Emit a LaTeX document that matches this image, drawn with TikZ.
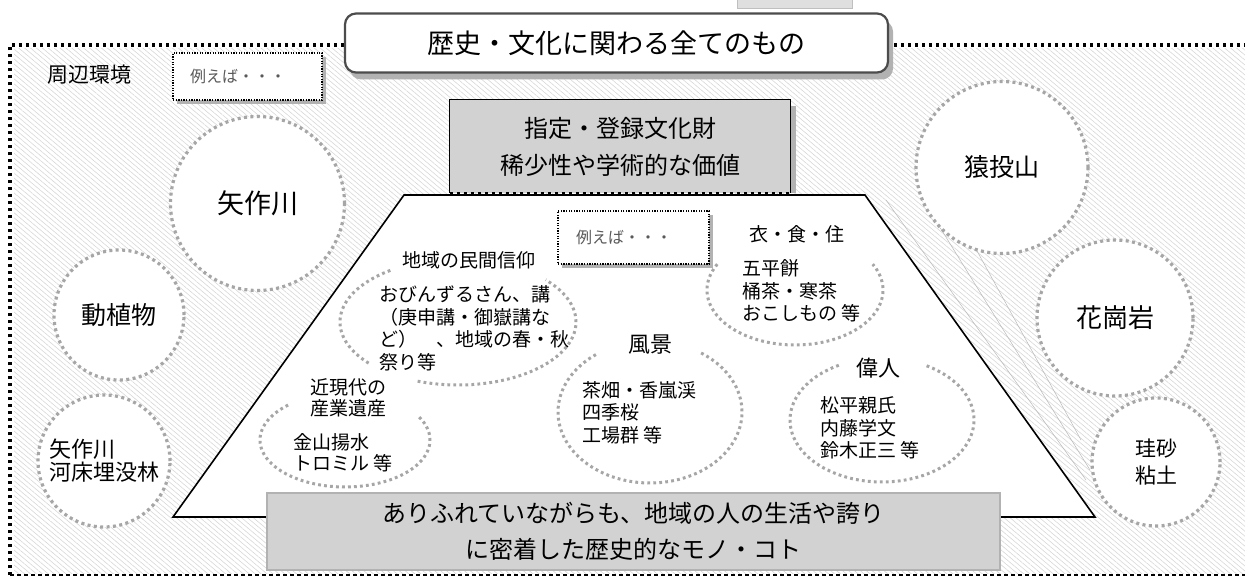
\documentclass[tikz,border=0pt]{standalone}
\usepackage{fontspec}
\setmainfont{Noto Sans CJK JP}
\usetikzlibrary{patterns.meta,calc,shadows}
\begin{document}
\begin{tikzpicture}[x=1pt,y=-1pt,
  outc/.style={circle, draw=gray!70, fill=white, line width=3.2pt,
    dash pattern=on 3pt off 3.4pt, inner sep=0pt, align=center},
  inarc/.style={draw=gray!70, line width=3pt, dash pattern=on 2.8pt off 3.2pt},
  bigdots/.style={line width=3.2pt, dash pattern=on 3pt off 4pt, draw=black},
  exbox/.style={draw=black, line width=1.2pt, dash pattern=on 1.3pt off 1.3pt, fill=white,
    text width=115pt, align=left, inner xsep=17pt, minimum height=47pt,
    font=\fontsize{16}{18}\selectfont, text=gray!70!black},
  lbl/.style={font=\fontsize{19}{22}\selectfont, inner sep=1pt},
  body/.style={font=\fontsize{19}{22.5}\selectfont, align=left, anchor=west, inner sep=0pt},
  graybox/.style={fill=gray!35, inner sep=0pt, align=center}
]
\useasboundingbox (0,0) rectangle (1245,578);
% background texture
\fill[white] (0,0) rectangle (1245,578);
\fill[pattern={Lines[angle=-40,distance=3.8pt,line width=.55pt]}, pattern color=gray!32]
  (14,49) rectangle (1245,573);
% outer border
\draw[bigdots] (10,575) -- (10,45) -- (1245,45);
\draw[line width=1.2pt, dash pattern=on 4pt off 3pt] (10,575) -- (1245,575);
% small grey shape at top
\draw[gray!50, fill=gray!25] (737,-2) rectangle (852,8);
% thin lines beside the trapezoid
\draw[gray!55, line width=.5pt] (886,200) -- (1086,480);
\draw[gray!55, line width=.5pt] (923,200) -- (1090,470);
\draw[gray!55, line width=.5pt] (949,200) -- (1081,440);
% outer circles
\node[outc, minimum size=174pt, font=\fontsize{27}{30}\selectfont] (yahagi) at (257.5,203.5) {矢作川};
\node[outc, minimum size=130pt, font=\fontsize{25}{28}\selectfont] (doshoku) at (119,315) {動植物};
\node[outc, minimum size=132pt, font=\fontsize{22}{23}\selectfont, align=left] (maibotsu) at (104,461) {矢作川\\河床埋没林};
\node[outc, minimum size=172pt, font=\fontsize{25}{28}\selectfont] (sanage) at (1002,167.5) {猿投山};
\node[outc, minimum size=156pt, font=\fontsize{26}{29}\selectfont] (kakougan) at (1115,318) {花崗岩};
\node[outc, minimum size=128pt, font=\fontsize{21}{27}\selectfont] (keisha) at (1156,462) {珪砂\\粘土};
% trapezoid
\coordinate (tbl) at (173,517);
\coordinate (ttl) at (404,195);
\coordinate (ttr) at (865,195);
\coordinate (tkn) at (877,212);
\coordinate (tbr) at (1095,517);
\draw[line width=1.6pt, fill=white] (tbl) -- (ttl) -- (ttr) -- (tkn) -- (tbr) -- cycle;
% inner dotted ellipses
\draw[inarc] plot[domain=125:222, samples=50] ({458+118*cos(\x)}, {322-63*sin(\x)});
\draw[inarc] plot[domain=250:402, samples=80] ({458+118*cos(\x)}, {322-63*sin(\x)});
\draw[inarc] plot[domain=152:388, samples=100] ({795+88*cos(\x)}, {290-55*sin(\x)});
\draw[inarc] plot[domain=126:418, samples=120] ({650+92*cos(\x)}, {412-71*sin(\x)});
\draw[inarc] plot[domain=118:422, samples=120] ({882+92*cos(\x)}, {420-62*sin(\x)});
\draw[inarc] plot[domain=132:390, samples=100] ({345+85*cos(\x)}, {440-47*sin(\x)});
% title box
\node[draw=gray!60!black, line width=2.2pt, fill=white, rounded corners=11pt,
  minimum width=543pt, minimum height=59pt, inner sep=0pt,
  drop shadow={shadow xshift=5pt, shadow yshift=-7pt, fill=gray!60, opacity=1},
  font=\fontsize{27}{30}\selectfont] (title) at (616.5,43) {歴史・文化に関わる全てのもの};
% outer example box
\node[font=\fontsize{21}{24}\selectfont, inner sep=1pt] (shuhen) at (89,75) {周辺環境};
\fill[gray!60] (177,57) rectangle (326,104);
\node[exbox, minimum width=149pt] (ex1) at (247.5,76.5) {例えば・・・};
% designated box
\fill[gray!60] (450,106) rectangle (796,193);
\node[graybox, minimum width=340pt, minimum height=93pt,
  font=\fontsize{24}{37}\selectfont] (shitei) at (620,146.5) {指定・登録文化財\\稀少性や学術的な価値};
\draw[line width=1pt] (shitei.south west) -- (shitei.north west) -- (shitei.north east) -- (shitei.south east);
\draw[bigdots] (shitei.south west) -- (shitei.south east);
% inner example box
\fill[gray!60] (562,215) rectangle (713,268);
\node[exbox, minimum width=151pt, minimum height=53pt] (ex2) at (633.5,237.5) {例えば・・・};
% bottom box
\node[graybox, draw=gray!60, line width=2.5pt, minimum width=733pt, minimum height=77pt,
  font=\fontsize{24}{36}\selectfont] (bottom) at (633.5,531.5)
  {ありふれていながらも、地域の人の生活や誇り\\に密着した歴史的なモノ・コト};
% inner labels and contents
\node[lbl] (shinko) at (469,260) {地域の民間信仰};
\node[body] (shinkob) at (379,328.5) {おびんずるさん、講\\（庚申講・御嶽講な\\ど）　、地域の春・秋\\祭り等};
\node[lbl] (ishoku) at (797,234) {衣・食・住};
\node[body] (ishokub) at (742,291) {五平餅\\桶茶・寒茶\\おこしもの 等};
\node[lbl, font=\fontsize{22}{24}\selectfont] (fukei) at (650,345) {風景};
\node[body] (fukeib) at (582,412.5) {茶畑・香嵐渓\\四季桜\\工場群 等};
\node[lbl, font=\fontsize{22}{24}\selectfont] (ijin) at (878,368) {偉人};
\node[body] (ijinb) at (820,428) {松平親氏\\内藤学文\\鈴木正三 等};
\node[lbl, align=center, font=\fontsize{19}{21}\selectfont] (sangyo) at (348,397.5) {近現代の\\産業遺産};
\node[body, font=\fontsize{19}{21}\selectfont] (sangyob) at (293,452.5) {金山揚水\\トロミル 等};
\end{tikzpicture}
\end{document}
